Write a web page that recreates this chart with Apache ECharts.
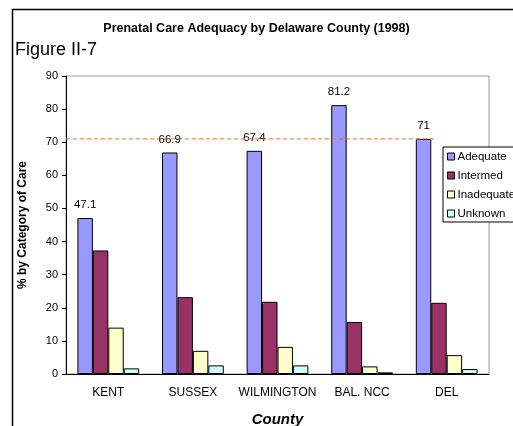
<!DOCTYPE html>
<html>
<head>
<meta charset="utf-8">
<script src="https://cdn.jsdelivr.net/npm/echarts@6/dist/echarts.min.js"></script>
<style>
  html, body { margin: 0; padding: 0; background: #fff; }
  #main { width: 513px; height: 426px; }
</style>
</head>
<body>
<div id="main"></div>
<script>
// data
var counties = ["KENT", "SUSSEX", "WILMINGTON", "BAL. NCC", "DEL"];
var adequate = [47.1, 66.9, 67.4, 81.2, 71];
var intermed = [37.3, 23.2, 21.8, 15.7, 21.5];
var inadequate = [14.0, 7.0, 8.2, 2.3, 5.7];
var unknown = [1.7, 2.6, 2.6, 0.5, 1.5];
var refValue = 71;          // dashed reference level
var refSpan = [0, 4.37];    // from left of KENT to just past DEL adequate bar

var font = "Arial, 'Liberation Sans', sans-serif";
var chart = echarts.init(document.getElementById("main"));

function barSeries(name, color, data, withLabel) {
  return {
    name: name,
    type: "bar",
    data: data,
    barGap: "0%",
    barCategoryGap: "27%",
    itemStyle: { color: color, borderColor: "#000", borderWidth: 1 },
    label: {
      show: !!withLabel,
      position: "top",
      distance: 7,
      color: "#000",
      fontSize: 11.5,
      fontFamily: font
    }
  };
}

var option = {
  animation: false,
  backgroundColor: "#fff",
  title: {
    text: "Prenatal Care Adequacy by Delaware County (1998)",
    left: "center",
    top: 17,
    textStyle: { fontSize: 12.5, fontWeight: "bold", color: "#000", fontFamily: font }
  },
  graphic: [
    {
      type: "polyline",
      shape: { points: [[12.5, 426], [12.5, 9.5], [513, 9.5]] },
      style: { stroke: "#000", lineWidth: 1.5, fill: null }
    },
    {
      type: "text",
      left: 15,
      top: 41,
      style: { text: "Figure II-7", fontSize: 18, fill: "#000", fontFamily: font }
    }
  ],
  legend: {
    orient: "vertical",
    left: 443,
    top: 147,
    data: ["Adequate", "Intermed", "Inadequate", "Unknown"],
    itemWidth: 7,
    itemHeight: 7,
    itemGap: 6,
    padding: [3, 6, 2, 4],
    backgroundColor: "#fff",
    borderColor: "#000",
    borderWidth: 1,
    borderRadius: 0,
    icon: "rect",
    textStyle: { fontSize: 11.5, color: "#000", fontFamily: font, padding: [0, 0, 0, -2], lineHeight: 13 },
    itemStyle: { borderColor: "#000", borderWidth: 1 }
  },
  grid: {
    left: 66,
    right: 24,
    top: 76,
    bottom: 52,
    outerBoundsMode: "none",
    show: true,
    borderColor: "#999",
    borderWidth: 1
  },
  xAxis: [
    {
      type: "category",
      data: counties,
      name: "County",
      nameLocation: "middle",
      nameGap: 38,
      nameTextStyle: { fontSize: 15, fontWeight: "bold", fontStyle: "italic", color: "#000", fontFamily: font, verticalAlign: "top" },
      axisLine: { lineStyle: { color: "#000", width: 1 } },
      axisTick: { length: 4, lineStyle: { color: "#000" } },
      axisLabel: { fontSize: 12, color: "#000", margin: 13, fontFamily: font, interval: 0 }
    },
    {
      type: "value",
      min: 0,
      max: 5,
      show: false
    }
  ],
  yAxis: {
    type: "value",
    min: 0,
    max: 90,
    interval: 10,
    name: "% by Category of Care",
    nameLocation: "middle",
    nameGap: 37,
    nameTextStyle: { fontSize: 12, fontWeight: "bold", color: "#000", fontFamily: font },
    axisLine: { show: true, lineStyle: { color: "#000", width: 1 } },
    axisTick: { show: true, length: 4, lineStyle: { color: "#000" } },
    axisLabel: { fontSize: 11, color: "#000", margin: 8, fontFamily: font },
    splitLine: { show: false }
  },
  series: [
    barSeries("Adequate", "#9999FF", adequate, true),
    barSeries("Intermed", "#993366", intermed),
    barSeries("Inadequate", "#FFFFCC", inadequate),
    barSeries("Unknown", "#CCFFFF", unknown),
    {
      name: "ref",
      type: "line",
      xAxisIndex: 1,
      data: refSpan.map(function (x) { return [x, refValue]; }),
      symbol: "none",
      z: 5,
      lineStyle: { color: "#FF6600", width: 1, type: [4, 3] }
    }
  ]
};

chart.setOption(option);
</script>
</body>
</html>
